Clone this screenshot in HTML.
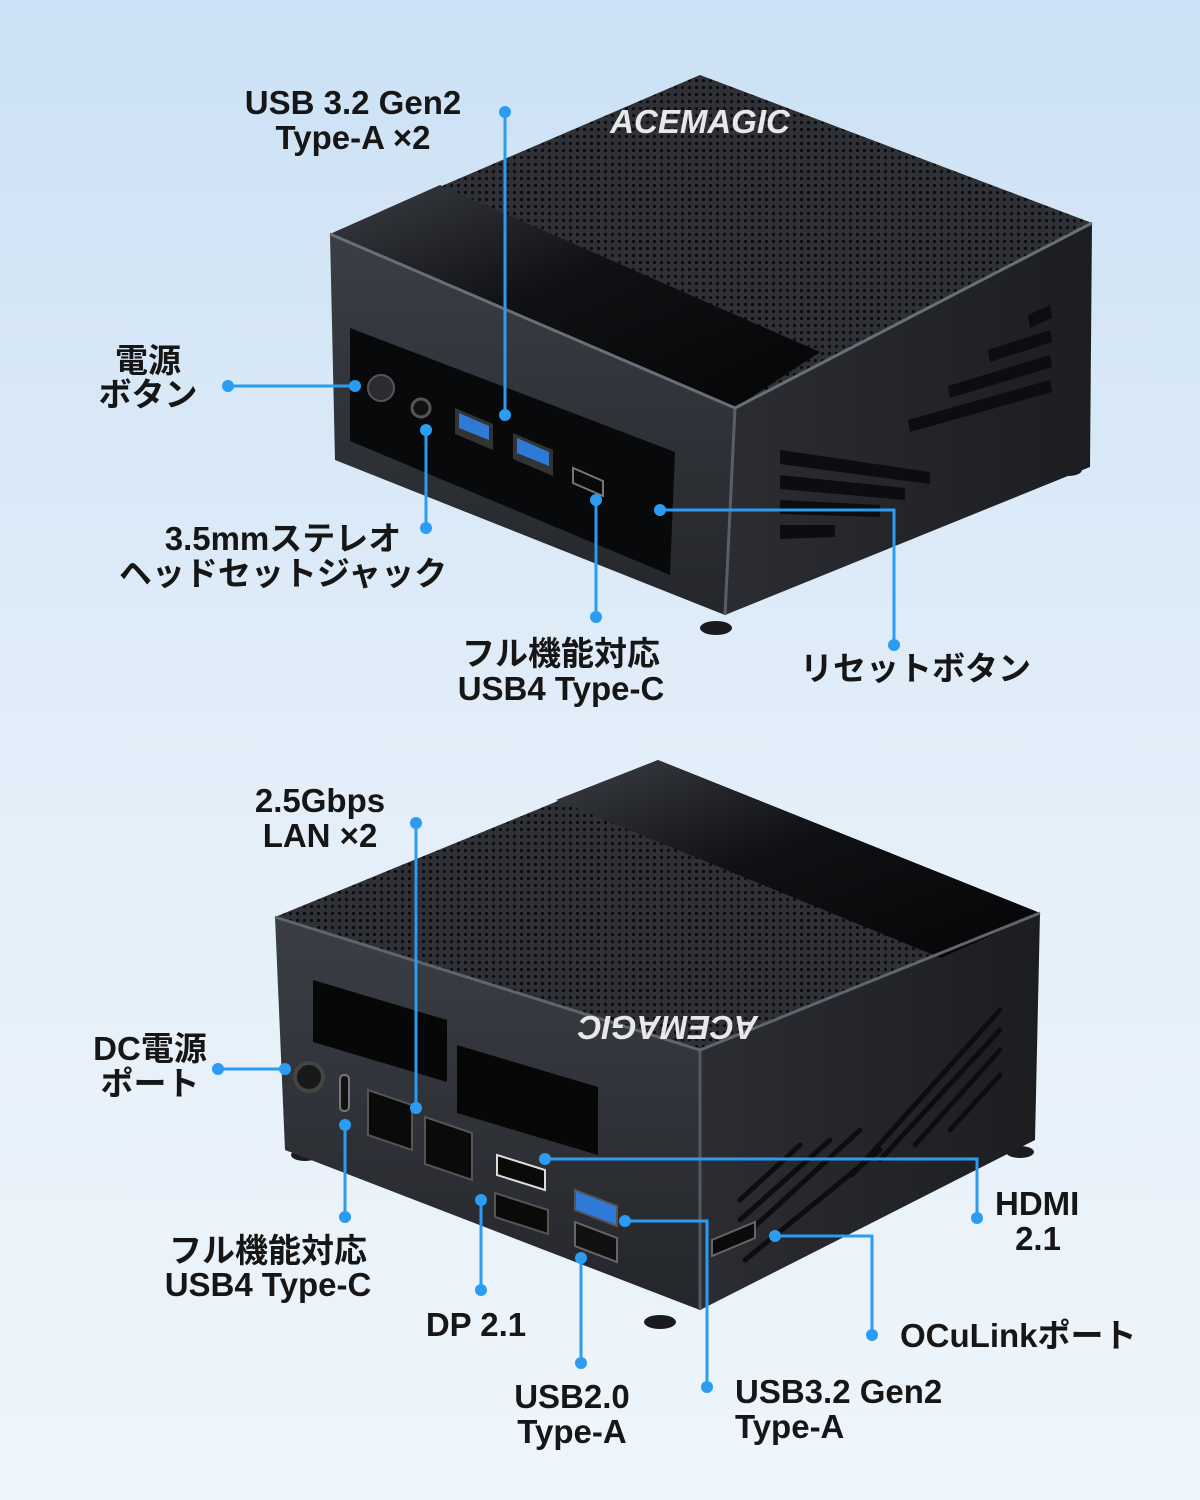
<!DOCTYPE html>
<html><head><meta charset="utf-8"><style>
html,body{margin:0;padding:0}
body{width:1200px;height:1500px;overflow:hidden;background:linear-gradient(#cce1f5,#e4eff9 55%,#eef5fb)}
svg{display:block}
text{font-family:"Liberation Sans","Noto Sans CJK JP",sans-serif;font-weight:bold;fill:#161616;font-size:33px}
</style></head><body>
<svg width="1200" height="1500" viewBox="0 0 1200 1500">
<defs>
<pattern id="mesh" width="7" height="7" patternUnits="userSpaceOnUse"><rect width="7" height="7" fill="#2f3136"/><circle cx="3.5" cy="3.5" r="1.6" fill="#0c0d0f"/></pattern>
<linearGradient id="gloss" x1="0" y1="0" x2="1" y2="1"><stop offset="0" stop-color="#3a3d44"/><stop offset="0.45" stop-color="#101114"/><stop offset="1" stop-color="#050506"/></linearGradient>
<linearGradient id="front" x1="0" y1="0" x2="0" y2="1"><stop offset="0" stop-color="#3b3e45"/><stop offset="1" stop-color="#24262b"/></linearGradient>
<linearGradient id="side" x1="0" y1="0" x2="1" y2="0"><stop offset="0" stop-color="#2b2d32"/><stop offset="1" stop-color="#1c1d21"/></linearGradient>
</defs>
<g fill="#1a1b1e">
<ellipse cx="362" cy="462" rx="14" ry="6"/><ellipse cx="716" cy="628" rx="16" ry="7"/><ellipse cx="1068" cy="470" rx="14" ry="6"/>
<ellipse cx="305" cy="1155" rx="14" ry="6"/><ellipse cx="660" cy="1322" rx="16" ry="7"/><ellipse cx="1020" cy="1152" rx="14" ry="6"/>
</g>
<!-- top device -->
<polygon points="330,234 735,408 725,615 335,460" fill="url(#front)"/>
<polygon points="735,408 1092,223 1090,467 725,615" fill="url(#side)"/>
<line x1="735" y1="408" x2="725" y2="615" stroke="#5a5e66" stroke-width="3"/>
<polygon points="330,234 700,75 1092,223 735,408" fill="url(#mesh)"/>
<polygon points="330,234 440,185 820,352 735,408" fill="url(#gloss)"/>
<polyline points="330,234 735,408 1092,223" fill="none" stroke="#6a6e76" stroke-width="3"/>
<text x="700" y="133" font-size="22" style="fill:#e8e8e8;font-style:italic" transform="rotate(0)" text-anchor="middle">ACEMAGIC</text>
<polygon points="350,328 675,452 670,575 350,441" fill="#08090b"/>
<g fill="#0c0d0f"><polygon points="1050,305 1052,318 1030,328 1028,315"/><polygon points="1050,330 1052,342 990,362 988,350"/><polygon points="1050,355 1052,367 950,398 948,386"/><polygon points="1050,380 1052,392 910,432 908,420"/>
<polygon points="780,450 930,472 930,484 780,464"/><polygon points="780,475 905,488 905,500 780,489"/><polygon points="780,500 880,505 880,517 780,514"/><polygon points="780,525 835,525 835,537 780,539"/></g>
<circle cx="381" cy="388" r="13" fill="#2a2c31" stroke="#555" stroke-width="2"/>
<circle cx="421" cy="408" r="9" fill="#111" stroke="#555" stroke-width="3"/>
<polygon points="455,408 493,424 493,450 455,434" fill="#333" /><polygon points="459,413 489,426 489,440 459,428" fill="#2f7ad6"/>
<polygon points="513,433 553,450 553,476 513,459" fill="#333"/><polygon points="517,438 549,452 549,466 517,453" fill="#2f7ad6"/>
<polygon points="573,468 603,481 603,496 573,483" fill="none" stroke="#777" stroke-width="2"/>
<!-- bottom device -->
<polygon points="275,917 700,1050 700,1310 285,1150" fill="url(#front)"/>
<polygon points="700,1050 1040,913 1035,1140 700,1310" fill="url(#side)"/>
<line x1="700" y1="1050" x2="700" y2="1310" stroke="#55595f" stroke-width="3"/>
<polygon points="275,917 658,760 1040,913 700,1050" fill="url(#mesh)"/>
<polygon points="556,800 658,760 1040,913 941,958" fill="url(#gloss)"/>
<polyline points="275,917 700,1050 1040,913" fill="none" stroke="#60646c" stroke-width="3"/>
<text x="668" y="1032" font-size="24" style="fill:#e8e8e8;font-style:italic" text-anchor="middle" transform="rotate(180 668 1024)">ACEMAGIC</text>
<polygon points="313,980 447,1020 447,1082 313,1042" fill="#070708"/>
<polygon points="457,1045 598,1087 598,1155 457,1113" fill="#070708"/>
<g stroke="#0c0d0f" stroke-width="5" stroke-linecap="round"><line x1="740" y1="1200" x2="800" y2="1145"/><line x1="740" y1="1220" x2="830" y2="1140"/><line x1="740" y1="1240" x2="860" y2="1130"/><line x1="745" y1="1260" x2="880" y2="1150"/><line x1="852" y1="1175" x2="1000" y2="1010"/><line x1="880" y1="1160" x2="1000" y2="1030"/><line x1="915" y1="1145" x2="1000" y2="1050"/><line x1="950" y1="1130" x2="1000" y2="1075"/></g>
<circle cx="309" cy="1077" r="14" fill="#18191b" stroke="#444" stroke-width="4"/>
<rect x="340" y="1075" width="9" height="36" rx="4" fill="#111" stroke="#777" stroke-width="2"/>
<polygon points="368,1090 412,1105 412,1150 368,1135" fill="#0a0a0b" stroke="#555" stroke-width="2"/>
<polygon points="425,1117 472,1133 472,1180 425,1164" fill="#0a0a0b" stroke="#555" stroke-width="2"/>
<polygon points="497,1155 545,1170 545,1190 497,1175" fill="#0a0a0b" stroke="#ddd" stroke-width="2"/>
<polygon points="495,1193 548,1210 548,1234 495,1217" fill="#0a0a0b" stroke="#555" stroke-width="2"/>
<polygon points="575,1190 617,1206 617,1226 575,1210" fill="#2f7ad6" stroke="#555" stroke-width="2"/>
<polygon points="575,1222 617,1238 617,1262 575,1246" fill="#111" stroke="#666" stroke-width="2"/>
<polygon points="712,1240 755,1222 755,1238 712,1256" fill="#0a0a0b" stroke="#666" stroke-width="2"/>
<!-- connectors -->
<g stroke="#2b9cf2" stroke-width="3" fill="none">
<line x1="505" y1="112" x2="505" y2="415"/><line x1="228" y1="386" x2="355" y2="386"/><line x1="426" y1="528" x2="426" y2="430"/><line x1="596" y1="617" x2="596" y2="500"/><polyline points="894,645 894,510 660,510"/>
<line x1="416" y1="823" x2="416" y2="1108"/><line x1="218" y1="1069" x2="285" y2="1069"/><line x1="345" y1="1217" x2="345" y2="1125"/><line x1="481" y1="1290" x2="481" y2="1200"/><polyline points="977,1218 977,1159 545,1159"/><line x1="581" y1="1363" x2="581" y2="1258"/><polyline points="707,1387 707,1221 625,1221"/><polyline points="872,1335 872,1236 775,1236"/>
</g>
<g fill="#2b9cf2">
<circle cx="505" cy="112" r="6"/><circle cx="505" cy="415" r="6"/><circle cx="228" cy="386" r="6"/><circle cx="355" cy="386" r="6"/><circle cx="426" cy="528" r="6"/><circle cx="426" cy="430" r="6"/><circle cx="596" cy="617" r="6"/><circle cx="596" cy="500" r="6"/><circle cx="894" cy="645" r="6"/><circle cx="660" cy="510" r="6"/>
<circle cx="416" cy="823" r="6"/><circle cx="416" cy="1108" r="6"/><circle cx="218" cy="1069" r="6"/><circle cx="285" cy="1069" r="6"/><circle cx="345" cy="1217" r="6"/><circle cx="345" cy="1125" r="6"/><circle cx="481" cy="1290" r="6"/><circle cx="481" cy="1200" r="6"/><circle cx="977" cy="1218" r="6"/><circle cx="545" cy="1159" r="6"/><circle cx="581" cy="1363" r="6"/><circle cx="581" cy="1258" r="6"/><circle cx="707" cy="1387" r="6"/><circle cx="625" cy="1221" r="6"/><circle cx="872" cy="1335" r="6"/><circle cx="775" cy="1236" r="6"/>
</g>
<!-- labels -->
<g text-anchor="middle">
<text x="353" y="114">USB 3.2 Gen2</text><text x="353" y="149">Type-A ×2</text>
<text x="148" y="372">電源</text><text x="148" y="406">ボタン</text>
<text x="283" y="550">3.5mmステレオ</text><text x="283" y="585">ヘッドセットジャック</text>
<text x="561" y="665">フル機能対応</text><text x="561" y="700">USB4 Type-C</text>
<text x="320" y="812">2.5Gbps</text><text x="320" y="847">LAN ×2</text>
<text x="150" y="1060">DC電源</text><text x="150" y="1095">ポート</text>
<text x="268" y="1262">フル機能対応</text><text x="268" y="1296">USB4 Type-C</text>
<text x="476" y="1336">DP 2.1</text>
<text x="572" y="1408">USB2.0</text><text x="572" y="1443">Type-A</text>
<text x="1038" y="1250">2.1</text>
</g>
<text x="800" y="680">リセットボタン</text>
<text x="735" y="1403">USB3.2 Gen2</text><text x="735" y="1438">Type-A</text>
<text x="995" y="1215">HDMI</text>
<text x="900" y="1347">OCuLinkポート</text>
</svg>
</body></html>
